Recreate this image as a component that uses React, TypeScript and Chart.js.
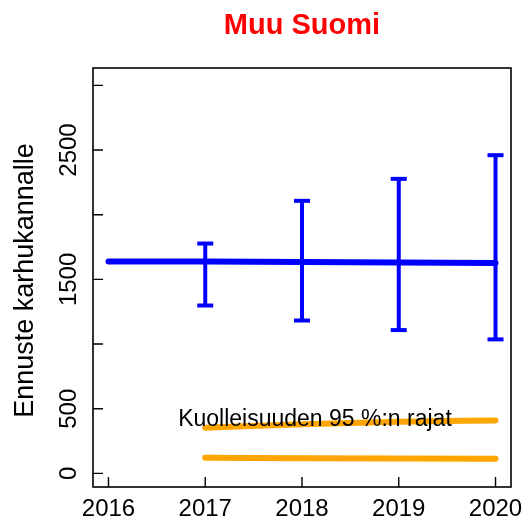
import React, { useEffect, useRef } from "react";
import { Chart, registerables } from "chart.js";

Chart.register(...registerables);

// ---- data ----
const years = [2016, 2017, 2018, 2019, 2020];
const estimate = [1638, 1638, 1634, 1630, 1627];
const ciLower = [null, 1298, 1182, 1108, 1036];
const ciUpper = [null, 1777, 2107, 2277, 2460];
const mortYears = [2017, 2018, 2019, 2020];
const mortUpper = [353, 380, 400, 410];
const mortLower = [121, 118, 116, 113];
const yTicks = [0, 500, 1000, 1500, 2000, 2500, 3000];
const yTickLabels = ["0", "500", "", "1500", "", "2500", ""];
const xTicks = [2016, 2017, 2018, 2019, 2020];
const titleText = "Muu Suomi";
const yTitle = "Ennuste karhukannalle";
const noteText = "Kuolleisuuden 95 %:n rajat";

const FONT = "'Liberation Sans', Arial, Helvetica, sans-serif";
const BLUE = "#0000ff";
const ORANGE = "#ffa500";

const axesPlugin = {
  id: "rAxes",
  afterDraw(chart: any) {
    const { ctx, chartArea: a, scales } = chart;
    const xs = scales.x;
    const ys = scales.y;
    ctx.save();
    ctx.strokeStyle = "#000";
    ctx.fillStyle = "#000";
    ctx.lineWidth = 1.6;
    ctx.strokeRect(a.left, a.top, a.right - a.left, a.bottom - a.top);
    // inward ticks
    ctx.lineWidth = 1.4;
    ctx.beginPath();
    for (const v of yTicks) {
      const py = ys.getPixelForValue(v);
      ctx.moveTo(a.left, py);
      ctx.lineTo(a.left + 10, py);
    }
    for (const v of xTicks) {
      const px = xs.getPixelForValue(v);
      ctx.moveTo(px, a.bottom);
      ctx.lineTo(px, a.bottom - 10);
    }
    ctx.stroke();
    // x labels
    ctx.font = `24px ${FONT}`;
    ctx.textAlign = "center";
    ctx.textBaseline = "alphabetic";
    for (const v of xTicks) {
      ctx.fillText(String(v), xs.getPixelForValue(v), a.bottom + 29);
    }
    // y labels (rotated)
    yTicks.forEach((v, i) => {
      const lab = yTickLabels[i];
      if (!lab) return;
      ctx.save();
      ctx.translate(a.left - 17, ys.getPixelForValue(v));
      ctx.rotate(-Math.PI / 2);
      ctx.fillText(lab, 0, 0);
      ctx.restore();
    });
    // y title
    ctx.save();
    ctx.font = `27px ${FONT}`;
    ctx.translate(33, (a.top + a.bottom) / 2 + 3);
    ctx.rotate(-Math.PI / 2);
    ctx.fillText(yTitle, 0, 0);
    ctx.restore();
    // note text
    ctx.font = `23px ${FONT}`;
    ctx.textAlign = "left";
    ctx.fillText(noteText, xs.getPixelForValue(2016.72), ys.getPixelForValue(365));
    ctx.restore();
  },
};

export default function App() {
  const ref = useRef<HTMLCanvasElement | null>(null);
  useEffect(() => {
    if (!ref.current) return;
    const datasets: any[] = [];
    datasets.push({
      data: years.map((x, i) => ({ x, y: estimate[i] })),
      borderColor: BLUE,
      borderWidth: 6,
      borderCapStyle: "round",
      pointRadius: 0,
      tension: 0,
    });
    years.forEach((x, i) => {
      const lo = ciLower[i];
      const hi = ciUpper[i];
      if (lo == null || hi == null) return;
      datasets.push({
        data: [
          { x, y: lo },
          { x, y: hi },
        ],
        borderColor: BLUE,
        borderWidth: 4,
        pointStyle: "line",
        pointRadius: 8,
        pointHoverRadius: 8,
        pointBorderWidth: 4,
        pointBorderColor: BLUE,
        pointBackgroundColor: BLUE,
      });
    });
    datasets.push({
      data: mortYears.map((x, i) => ({ x, y: mortUpper[i] })),
      borderColor: ORANGE,
      borderWidth: 6,
      borderCapStyle: "round",
      cubicInterpolationMode: "monotone",
      pointRadius: 0,
    });
    datasets.push({
      data: mortYears.map((x, i) => ({ x, y: mortLower[i] })),
      borderColor: ORANGE,
      borderWidth: 6,
      borderCapStyle: "round",
      pointRadius: 0,
    });
    const chart = new Chart(ref.current, {
      type: "line",
      data: { datasets },
      options: {
        responsive: false,
        animation: false,
        events: [],
        layout: { padding: { left: 93, right: 18, top: 0, bottom: 35 } },
        plugins: {
          legend: { display: false },
          tooltip: { enabled: false },
          title: {
            display: true,
            text: titleText,
            color: "#ff0000",
            font: { family: FONT, size: 29, weight: "bold", lineHeight: 1 },
            padding: { top: 11, bottom: 28 },
          },
        },
        scales: {
          x: { type: "linear", display: false, min: 2015.84, max: 2020.16 },
          y: { type: "linear", display: false, min: -105, max: 3134 },
        },
      } as any,
      plugins: [axesPlugin],
    });
    return () => chart.destroy();
  }, []);
  return (
    <div style={{ position: "absolute", left: 0, top: 0, width: 529, height: 522, background: "#fff" }}>
      <canvas ref={ref} width={529} height={522} style={{ display: "block" }} />
    </div>
  );
}
